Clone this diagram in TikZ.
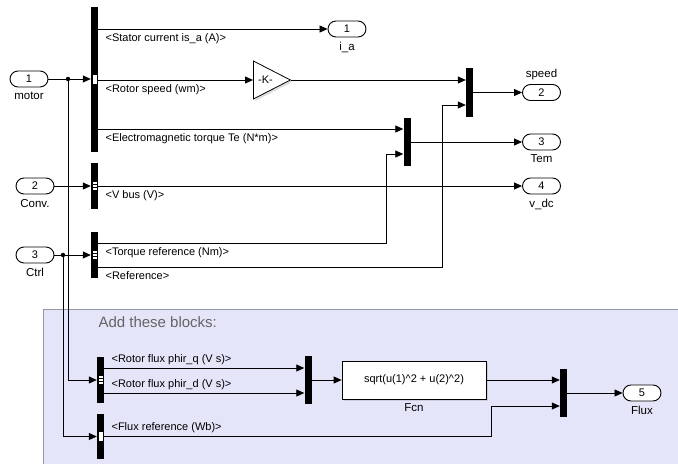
\documentclass[tikz,border=0pt]{standalone}
\usepackage{fontspec}
\setmainfont{Liberation Sans}
\usetikzlibrary{arrows.meta,shapes.geometric,shadows}
\definecolor{addbg}{RGB}{229,229,250}
\definecolor{addline}{RGB}{150,150,160}
\definecolor{addtext}{RGB}{100,100,100}
\tikzset{
  sig/.style={-{Triangle[length=8pt,width=7pt]},line width=0.8pt},
  port/.style={draw,line width=0.9pt,fill=white,rounded corners=8pt,minimum width=38pt,minimum height=16pt,inner sep=0pt,font=\fontsize{11}{12}\selectfont},
  bar/.style={fill=black,minimum width=7pt,inner sep=0pt},
  lbl/.style={font=\fontsize{11.5}{12}\selectfont,label distance=1pt},
  sl/.style={font=\fontsize{11}{12}\selectfont,inner sep=1pt,anchor=north west,xshift=6pt,yshift=-3pt},
  sla/.style={font=\fontsize{11}{12}\selectfont,inner sep=1pt,anchor=south west,xshift=6pt,yshift=2pt},
  dot/.style={circle,fill=black,inner sep=0pt,minimum size=4.5pt},
  gainbox/.style={draw,fill=white,line width=0.8pt,isosceles triangle,isosceles triangle stretches,minimum width=38pt,minimum height=37pt,inner sep=0pt,font=\fontsize{11}{12}\selectfont,drop shadow={shadow xshift=2pt,shadow yshift=-2pt,opacity=0.25}},
  fcnbox/.style={draw,fill=white,line width=0.8pt,minimum width=144pt,minimum height=38pt,font=\fontsize{11}{12}\selectfont,drop shadow={shadow xshift=2pt,shadow yshift=-2pt,opacity=0.25}},
}
\begin{document}
\begin{tikzpicture}[x=1pt,y=-1pt]
\useasboundingbox (0,0) rectangle (678,464);
% area for the new blocks
\fill[addbg] (43,309) rectangle (678,464);
\draw[addline,line width=0.8pt] (43,464) -- (43,309) -- (678,309);
\node[anchor=west,text=addtext,font=\fontsize{15}{16}\selectfont] (addnote) at (95,322) {Add these blocks:};

% inputs
\node[port,label={[lbl]below:motor}] (in1) at (29,79) {1};
\node[port,label={[lbl]below:Conv.}] (in2) at (35,186) {2};
\node[port,label={[lbl]below:Ctrl}] (in3) at (35,255) {3};

% bus selectors
\node[bar,minimum height=145pt] (bar1) at (94.5,79.5) {};
\node[bar,minimum height=46pt] (bar2) at (94.5,186) {};
\node[bar,minimum height=46pt] (bar3) at (94.5,255) {};
\node[bar,minimum height=46pt] (fbar1) at (100.5,380) {};
\node[bar,minimum height=45pt] (fbar2) at (100.5,436.5) {};
\foreach \b in {bar1,bar2,bar3,fbar1,fbar2}
  \foreach \d in {-4.1pt,-1.1pt,1.9pt}
    \fill[white] ([xshift=-2pt,yshift=\d]\b.center) rectangle +(4pt,2.2pt);

% muxes, gain and fcn
\node[gainbox,anchor=west] (gain) at (253,80) {-K-};
\node[bar,minimum height=49pt] (smux) at (469.5,92.5) {};
\node[bar,minimum height=48pt] (tmux) at (407,142) {};
\node[bar,minimum height=48pt] (fmux1) at (308,380) {};
\node[bar,minimum height=48pt] (fmux2) at (563.5,393) {};
\node[fcnbox,label={[lbl]below:Fcn}] (fcn) at (414,380) {sqrt(u(1)\^{}2 + u(2)\^{}2)};

% outputs
\node[port,label={[lbl]below:i\_a}] (out1) at (347,29) {1};
\node[port,label={[lbl]above:speed}] (out2) at (541.5,92.5) {2};
\node[port,label={[lbl]below:Tem}] (out3) at (541.5,142) {3};
\node[port,label={[lbl]below:v\_dc}] (out4) at (541.5,186) {4};
\node[port,label={[lbl]below:Flux}] (out5) at (642,393) {5};

% branch points
\node[dot] (mdot) at (68,79) {};
\node[dot] (cdot) at (63,255) {};

% signals
\draw[sig] (in1.east) -- (bar1.west |- in1.east);
\draw[sig] (in2.east) -- (bar2.west);
\draw[sig] (in3.east) -- (bar3.west);
\draw[sig] (mdot.center) |- (fbar1.west);
\draw[sig] (cdot.center) |- (fbar2.west);

\draw[sig] (bar1.east |- out1.west) -- node[sl,pos=0] {<Stator current is\_a (A)>} (out1.west);
\draw[sig] (bar1.east |- gain.west) -- node[sl,pos=0] {<Rotor speed (wm)>} (gain.west);
\draw[sig] (gain.east) -- (smux.west |- gain.east);
\draw[sig] (bar1.east |- 0,129) -- node[sl,pos=0] {<Electromagnetic torque Te (N*m)>} (tmux.west |- 0,129);
\draw[sig] (bar2.east) -- node[sl,pos=0] {<V bus (V)>} (out4.west);
\draw[sig] (bar3.east |- 0,243) -- node[sl,pos=0] {<Torque reference (Nm)>} (386,243) |- (tmux.west |- 0,154);
\draw[sig] (bar3.east |- 0,267) -- node[sl,pos=0] {<Reference>} (442,267) |- (smux.west |- 0,105);
\draw[sig] (smux.east) -- (out2.west);
\draw[sig] (tmux.east) -- (out3.west);

\draw[sig] (fbar1.east |- 0,368) -- node[sla,pos=0] {<Rotor flux phir\_q (V s)>} (fmux1.west |- 0,368);
\draw[sig] (fbar1.east |- 0,393) -- node[sla,pos=0] {<Rotor flux phir\_d (V s)>} (fmux1.west |- 0,393);
\draw[sig] (fmux1.east) -- (fcn.west);
\draw[sig] (fcn.east) -- (fmux2.west |- fcn.east);
\draw[sig] (fbar2.east) -- node[sla,pos=0] {<Flux reference (Wb)>} (491,436.5) |- (fmux2.west |- 0,406);
\draw[sig] (fmux2.east) -- (out5.west);
\end{tikzpicture}
\end{document}
